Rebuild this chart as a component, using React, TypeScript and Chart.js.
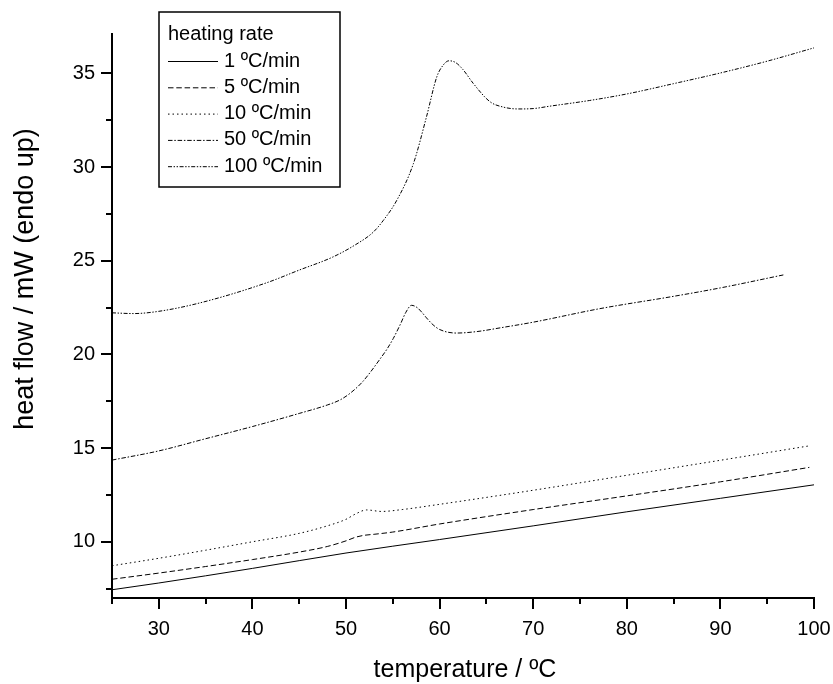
import React, { useEffect, useRef } from "react";
import { Chart, registerables } from "chart.js";

Chart.register(...registerables);

const FONT = '"Liberation Sans", Arial, Helvetica, sans-serif';

const seriesLabels = ["1 ºC/min", "5 ºC/min", "10 ºC/min", "50 ºC/min", "100 ºC/min"];
const legendTitle = "heating rate";
const xTitle = "temperature / ºC";
const yTitle = "heat flow / mW (endo up)";

// 1 ºC/min
const temps1 = [25, 30, 40, 50, 60, 70, 80, 90, 100];
const values1 = [7.44, 7.8, 8.58, 9.4, 10.12, 10.85, 11.6, 12.32, 13.04];

// 5 ºC/min
const temps5 = [25, 30, 35, 40, 45, 48, 50, 51, 52, 53, 55, 60, 70, 80, 90, 99.5];
const values5 = [8.0, 8.33, 8.68, 9.05, 9.45, 9.75, 10.05, 10.24, 10.35, 10.4, 10.52, 10.95, 11.72, 12.45, 13.2, 13.97];

// 10 ºC/min
const temps10 = [25, 30, 35, 40, 45, 48, 50, 51, 52.2, 53.8, 56, 60, 70, 80, 90, 99.5];
const values10 = [8.72, 9.12, 9.55, 10.0, 10.45, 10.85, 11.2, 11.48, 11.7, 11.62, 11.72, 12.0, 12.75, 13.55, 14.35, 15.12];

// 50 ºC/min
const temps50 = [25, 30, 35, 40, 45, 48, 49.4, 50.5, 51.7, 52.6, 53.6, 54.4, 55.05, 55.8, 56.4, 57, 57.6, 58.1, 58.6, 59.3, 60, 61.8, 64, 66.5, 70, 77.1, 85, 90, 96.8];
const values50 = [14.36, 14.85, 15.5, 16.15, 16.85, 17.3, 17.58, 17.95, 18.5, 19.05, 19.73, 20.3, 20.85, 21.6, 22.25, 22.62, 22.5, 22.25, 21.95, 21.58, 21.33, 21.14, 21.22, 21.42, 21.72, 22.44, 23.1, 23.55, 24.25];

// 100 ºC/min
const temps100 = [25, 27.3, 30, 34.4, 41.5, 45, 48.6, 51, 52.9, 54, 55.4, 57.2, 58.6, 59.7, 60.4, 61, 61.7, 62.5, 63.6, 65.4, 66.8, 68.4, 70, 71.8, 76, 80, 85, 90, 95, 100];
const values100 = [22.22, 22.18, 22.3, 22.75, 23.82, 24.5, 25.2, 25.85, 26.52, 27.16, 28.2, 30.18, 32.68, 34.81, 35.45, 35.67, 35.58, 35.2, 34.46, 33.48, 33.2, 33.1, 33.12, 33.25, 33.55, 33.9, 34.45, 35.02, 35.65, 36.36];

const xTickValues = [25, 30, 35, 40, 45, 50, 55, 60, 65, 70, 75, 80, 85, 90, 95, 100];
const xTickLabels = ["", "30", "", "40", "", "50", "", "60", "", "70", "", "80", "", "90", "", "100"];
const yTickValues = [7.5, 10, 12.5, 15, 17.5, 20, 22.5, 25, 27.5, 30, 32.5, 35];
const yTickLabels = ["", "10", "", "15", "", "20", "", "25", "", "30", "", "35"];

const dashes: number[][] = [[], [5.5, 2.8], [1.5, 3], [4.5, 1.8, 1.5, 1.8], [4, 1.6, 1.4, 1.6, 1.4, 1.6]];

const series = [
  { t: temps1, v: values1 },
  { t: temps5, v: values5 },
  { t: temps10, v: values10 },
  { t: temps50, v: values50 },
  { t: temps100, v: values100 },
];

const overlayPlugin = {
  id: "overlay",
  afterDraw(chart: any) {
    const ctx = chart.ctx as CanvasRenderingContext2D;
    const xs = chart.scales.x;
    const ys = chart.scales.y;
    const { left, bottom } = chart.chartArea;
    ctx.save();
    ctx.strokeStyle = "#000";
    ctx.lineWidth = 2;
    ctx.setLineDash([]);
    ctx.beginPath();
    xTickValues.forEach((v, i) => {
      const px = Math.round(xs.getPixelForValue(v));
      const len = xTickLabels[i] ? 11 : 6;
      ctx.moveTo(px, bottom);
      ctx.lineTo(px, bottom + len);
    });
    yTickValues.forEach((v, i) => {
      const py = Math.round(ys.getPixelForValue(v));
      const len = yTickLabels[i] ? 11 : 6;
      ctx.moveTo(left, py);
      ctx.lineTo(left - len, py);
    });
    ctx.stroke();

    // axis titles
    ctx.fillStyle = "#000";
    ctx.font = `25px ${FONT}`;
    ctx.textAlign = "center";
    ctx.textBaseline = "alphabetic";
    ctx.fillText(xTitle, 465, 677);
    ctx.save();
    ctx.translate(33, 279);
    ctx.rotate(-Math.PI / 2);
    ctx.font = `27px ${FONT}`;
    ctx.fillText(yTitle, 0, 0);
    ctx.restore();

    // legend
    const bx = 159, by = 12, bw = 181, bh = 175;
    ctx.fillStyle = "#fff";
    ctx.fillRect(bx, by, bw, bh);
    ctx.lineWidth = 1.5;
    ctx.strokeStyle = "#000";
    ctx.strokeRect(bx, by, bw, bh);
    ctx.fillStyle = "#000";
    ctx.font = `20px ${FONT}`;
    ctx.textAlign = "left";
    ctx.fillText(legendTitle, 168, 39.5);
    chart.data.datasets.forEach((ds: any, i: number) => {
      const base = 66.5 + i * 26.3;
      ctx.beginPath();
      ctx.lineWidth = 1;
      ctx.setLineDash(ds.borderDash || []);
      ctx.moveTo(168, base - 5);
      ctx.lineTo(218, base - 5);
      ctx.stroke();
      ctx.setLineDash([]);
      ctx.fillText(ds.label, 224, base);
    });
    ctx.restore();
  },
};

export default function App() {
  const ref = useRef<HTMLCanvasElement | null>(null);
  useEffect(() => {
    if (!ref.current) return;
    const chart = new Chart(ref.current, {
      type: "line",
      data: {
        datasets: series.map((s, i) => ({
          label: seriesLabels[i],
          data: s.t.map((t, j) => ({ x: t, y: s.v[j] })),
          borderColor: "#000",
          borderWidth: 1,
          borderDash: dashes[i],
          pointRadius: 0,
          fill: false,
          cubicInterpolationMode: "monotone" as const,
        })),
      },
      options: {
        responsive: false,
        animation: false,
        events: [],
        layout: { padding: { left: 0, top: 34, right: 19, bottom: 0 } },
        plugins: { legend: { display: false }, tooltip: { enabled: false } },
        scales: {
          x: {
            type: "linear",
            min: 25,
            max: 100,
            afterBuildTicks: (s: any) => {
              s.ticks = xTickValues.map((v) => ({ value: v }));
            },
            afterFit: (s: any) => {
              s.height = 86;
              s.paddingLeft = 0;
              s.paddingRight = 0;
            },
            ticks: {
              autoSkip: false,
              maxRotation: 0,
              padding: 8,
              color: "#000",
              font: { family: FONT, size: 20 },
              callback: (v: any) => {
                const i = xTickValues.indexOf(Number(v));
                return i >= 0 ? xTickLabels[i] : "";
              },
            },
            grid: { display: false, drawTicks: true, tickLength: 11 },
            border: { display: true, color: "#000", width: 2 },
          },
          y: {
            type: "linear",
            min: 7,
            max: 37.1,
            afterBuildTicks: (s: any) => {
              s.ticks = yTickValues.map((v) => ({ value: v }));
            },
            afterFit: (s: any) => {
              s.width = 112;
              s.paddingTop = 0;
              s.paddingBottom = 0;
            },
            ticks: {
              autoSkip: false,
              padding: 6,
              color: "#000",
              font: { family: FONT, size: 20 },
              callback: (v: any) => {
                const i = yTickValues.indexOf(Number(v));
                return i >= 0 ? yTickLabels[i] : "";
              },
            },
            grid: { display: false, drawTicks: true, tickLength: 11 },
            border: { display: true, color: "#000", width: 2 },
          },
        },
      },
      plugins: [overlayPlugin],
    });
    return () => chart.destroy();
  }, []);
  return (
    <div style={{ position: "absolute", left: 0, top: 0, width: 833, height: 684, background: "#fff" }}>
      <canvas ref={ref} width={833} height={684} style={{ display: "block", width: 833, height: 684 }} />
    </div>
  );
}
